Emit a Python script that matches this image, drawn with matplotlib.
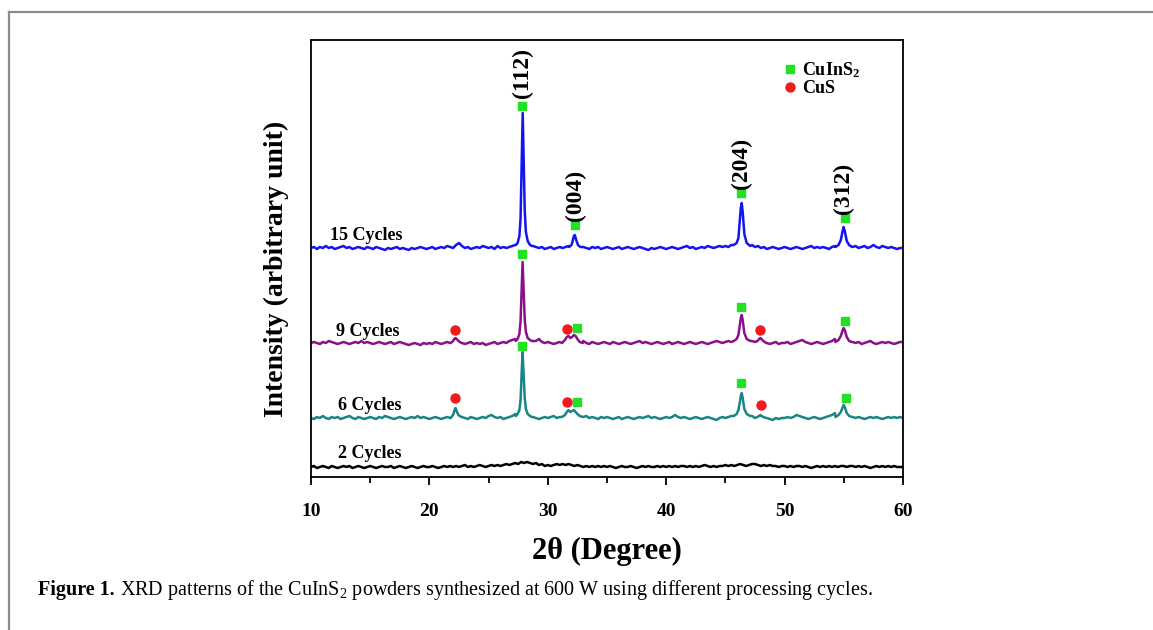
import numpy as np
import matplotlib.pyplot as plt
from matplotlib.lines import Line2D

plt.rcParams['font.family'] = ['Liberation Serif', 'DejaVu Serif']
plt.rcParams['mathtext.fontset'] = 'custom'
plt.rcParams['mathtext.rm'] = 'Liberation Serif'
plt.rcParams['mathtext.bf'] = 'Liberation Serif:bold'

# sampling grid of the patterns, 2theta in degrees (0.25 deg step)
two_theta = np.linspace(10, 60, 201)

# intensity above each pattern's own baseline (a.u.)
i_15 = [0, 1, -1, 1, 0, 2, 0, 1, -1, 0, 1, 2, 0, 1, -1, 0, 1, 0, -1, 1,
        0, -1, 1, 0, -1, -2, 0, -1, 0, 1, -1, 0, -1, -2, 0, -1, 0, 1, 0, -1,
        0, 1, -1, 0, 1, 0, 2, 1, 0, 3, 5, 2, 0, 1, -1, 0, 1, 0, 2, 1,
        0, 1, -1, 2, 0, 1, 0, 1, 2, 3, 8, 70, 40, 10, 4, 2, 1, 0, 1, -1,
        0, 1, -1, 0, 1, 0, 1, 2, 4, 12, 5, 2, 1, 0, -1, 1, 0, 1, -1, 0,
        1, 0, -1, 0, 1, -1, 0, 1, 0, -1, 0, 1, 0, -1, -2, 0, -1, 0, 1, 0,
        -1, 0, 1, 0, -1, 0, 1, 2, 0, 1, -1, 0, 1, 0, 2, 1, 0, 1, 2, 1,
        2, 1, 3, 2, 3, 4, 20, 30, 6, 3, 1, 2, 0, 1, -1, 0, 1, 0, -1, 0,
        1, 0, -1, 0, 1, 0, -1, 0, 1, 2, 0, 1, 0, 1, 0, -1, 1, 2, 3, 8,
        18, 8, 3, 1, 2, 0, 1, 2, 0, 1, 3, 1, 0, 2, 1, 0, 1, 0, -1, 0,
        0]
i_9 = [0, 1, 0, -1, 1, 0, 2, 1, 0, -1, 0, 1, 0, -1, 0, 1, 0, 2, 0, 1,
       0, -1, 0, 1, 0, -1, 0, 1, -1, 0, 1, 0, -1, -2, -1, 0, -1, -2, 0, -1,
       0, -1, 1, 0, -1, 0, 1, 0, 3, 5, 2, 0, -1, 0, 1, -1, 0, -1, 0, -2,
       -1, 0, 1, -1, 0, 1, 0, 2, 3, 4, 8, 40, 30, 8, 4, 2, 2, 4, 1, 0,
       1, 0, -1, 0, 1, 2, 4, 6, 5, 7, 3, 1, 2, 0, -1, 1, 0, -1, 0, 1,
       0, -1, 1, 0, -1, 0, 1, 0, -1, 0, 1, 2, 0, 1, 0, -1, 0, 1, 0, -1,
       0, 1, -1, 0, 1, 0, -1, 0, 1, 0, -1, 0, 1, 0, -1, 0, 1, 2, 1, 0,
       1, 2, 1, 2, 3, 6, 20, 25, 6, 2, 1, 3, 5, 2, 0, -1, 0, 1, -1, 0,
       0, 1, -1, 0, 1, 2, 3, 1, 0, -1, 0, 1, 0, -1, 0, 1, 2, 4, 8, 12,
       12, 6, 2, 1, 0, 1, -1, 0, 1, 2, 0, -1, 0, 1, 0, 1, 0, -1, 0, 1,
       1]
i_6 = [0, -1, 1, 0, 2, 0, -1, 1, 0, 1, -1, 0, 1, 2, 0, -1, 1, 0, -1, 0,
       1, 0, -1, 1, 0, 2, 1, 0, -1, 0, 1, 0, -1, 0, 1, 0, 2, 0, 1, 0,
       -1, 0, 1, 0, -1, 0, 1, 0, 4, 9, 3, 1, 0, -1, 1, 0, -1, 0, 1, 0,
       2, 3, 1, 0, 1, -1, 0, 1, 2, 4, 8, 40, 30, 8, 3, 1, 0, -1, 0, 1,
       0, 1, 2, 0, 1, 2, 5, 7, 6, 7, 4, 2, 1, 2, 0, 1, 0, -1, 1, 0,
       1, 0, -1, 0, 1, -1, 0, 1, 0, -1, 0, 1, 0, 1, 2, 0, 1, 0, -1, 0,
       1, 0, 1, 3, 1, 0, 1, 0, -1, 0, 1, 0, -1, 0, 1, 0, -1, -2, 0, 1,
       0, 1, 2, 1, 2, 5, 18, 22, 5, 2, 1, 2, 3, 1, 0, -1, -2, 0, -1, 0,
       0, 1, 0, 1, 3, 2, 1, 0, -1, 0, 1, 0, -1, 0, 1, 2, 3, 5, 8, 11,
       11, 6, 2, 1, 0, 1, 0, -1, 0, 1, 0, 1, 0, -1, 0, 1, 0, 1, 0, 1,
       0]
i_2 = [0, 1, -1, 0, 1, 0, -1, 1, 0, -1, 0, 1, 0, 1, -1, 0, 1, 0, -1, 0,
       1, 0, -1, 0, 1, 0, 0, 1, -1, 0, 1, 0, -1, 0, 1, 0, -1, 0, 1, 0,
       0, 1, 0, -1, 0, 1, 0, 1, 0, 1, 0, 1, 2, 0, 1, 0, 1, 2, 1, 0,
       1, 2, 1, 2, 1, 2, 3, 2, 3, 4, 3, 5, 4, 5, 4, 3, 4, 2, 3, 1,
       2, 1, 2, 3, 2, 3, 2, 3, 2, 1, 2, 1, 0, 1, 0, 1, 0, 1, 0, 1,
       0, 1, 0, -1, 0, 1, 0, 0, 1, 0, -1, 0, 1, 0, 1, 0, 0, 1, 0, 1,
       0, 1, 0, 1, 0, 1, 1, 0, 1, 0, 1, 0, 1, 2, 1, 0, 1, 0, 1, 1,
       2, 1, 2, 1, 2, 3, 2, 1, 2, 3, 3, 2, 1, 2, 1, 2, 1, 1, 0, 1,
       1, 0, 1, 0, 1, 1, 0, 1, 0, -1, 0, 1, 0, 1, 0, 1, 0, 1, 0, 1,
       1, 0, 1, 1, 0, 1, 0, 1, 0, -1, 0, 1, 0, 1, 0, 1, 0, 1, 0, 0,
       0]

# finer readings across the reflections: (2theta list, intensity list)
peaks_15 = [
    ([27.3, 27.45, 27.6, 27.7, 27.78, 27.88, 27.96, 28.05, 28.15, 28.3, 28.5, 28.65],
     [3, 5, 12, 30, 75, 135, 90, 38, 16, 7, 3, 2]),
    ([31.8, 32.0, 32.1, 32.2, 32.28, 32.4, 32.55, 32.75], [1, 3, 7, 12, 13, 8, 3, 1]),
    ([45.7, 45.95, 46.1, 46.22, 46.3, 46.38, 46.46, 46.6, 46.8, 47.1],
     [3, 5, 10, 28, 40, 45, 36, 14, 5, 2]),
    ([54.3, 54.55, 54.75, 54.88, 54.98, 55.08, 55.25, 55.45, 55.7],
     [1, 3, 8, 16, 21, 17, 7, 3, 1]),
]
peaks_9 = [
    ([21.8, 22.0, 22.1, 22.2, 22.3, 22.45, 22.7], [0, 2, 4, 5, 4, 2, 0]),
    ([27.3, 27.45, 27.6, 27.7, 27.78, 27.87, 27.95, 28.05, 28.15, 28.3, 28.5, 28.65],
     [2, 4, 9, 22, 50, 81, 55, 24, 11, 5, 3, 2]),
    ([31.2, 31.45, 31.6, 31.75, 31.9, 32.05, 32.2, 32.35, 32.5, 32.7, 32.95],
     [0, 3, 6, 7, 5, 6, 8, 7, 4, 1, 0]),
    ([45.7, 45.95, 46.1, 46.22, 46.3, 46.38, 46.46, 46.6, 46.8, 47.1],
     [2, 4, 8, 18, 25, 28, 23, 10, 4, 2]),
    ([47.5, 47.7, 47.85, 47.95, 48.05, 48.2, 48.45], [1, 2, 4, 5, 4, 2, 0]),
    ([54.3, 54.55, 54.75, 54.88, 54.98, 55.08, 55.25, 55.45, 55.7],
     [1, 3, 7, 12, 15, 13, 6, 2, 1]),
]
peaks_6 = [
    ([21.8, 22.0, 22.1, 22.2, 22.3, 22.45, 22.7], [0, 3, 7, 10, 7, 3, 1]),
    ([27.3, 27.45, 27.6, 27.7, 27.78, 27.87, 27.95, 28.05, 28.15, 28.3, 28.5, 28.65],
     [2, 4, 8, 18, 42, 66, 46, 20, 9, 4, 2, 1]),
    ([31.2, 31.45, 31.6, 31.75, 31.9, 32.05, 32.2, 32.35, 32.5, 32.7, 32.95],
     [1, 3, 6, 8, 6, 7, 8, 6, 4, 2, 1]),
    ([45.7, 45.95, 46.1, 46.22, 46.3, 46.38, 46.46, 46.6, 46.8, 47.1],
     [2, 4, 8, 16, 22, 25, 20, 9, 4, 2]),
    ([47.5, 47.7, 47.85, 47.95, 48.05, 48.2, 48.45], [0, 1, 2, 3, 2, 1, 0]),
    ([54.3, 54.55, 54.75, 54.88, 54.98, 55.08, 55.25, 55.45, 55.7],
     [1, 3, 6, 10, 13, 11, 5, 2, 1]),
]
peaks_2 = []

labels = ['15 Cycles', '9 Cycles', '6 Cycles', '2 Cycles']
offsets = [229, 134, 59, 10]
colors = ['#1414f0', '#8a108a', '#1a8585', '#000000']

# phase markers (2theta, a.u.)
cuins2_x = {'15 Cycles': [27.85, 32.3, 46.35, 55.1],
            '9 Cycles': [27.85, 32.5, 46.35, 55.1],
            '6 Cycles': [27.85, 32.5, 46.35, 55.15]}
cuins2_y = {'15 Cycles': [371, 252, 284, 259],
            '9 Cycles': [223, 149, 170, 156],
            '6 Cycles': [131, 75, 94, 79]}
cus_x = {'9 Cycles': [22.2, 31.6, 47.95], '6 Cycles': [22.2, 31.6, 48.0]}
cus_y = {'9 Cycles': [147, 148, 147], '6 Cycles': [79, 75, 72]}

hkl = ['(112)', '(004)', '(204)', '(312)']
hkl_x = [27.85, 32.3, 46.35, 55.0]
hkl_y = [404, 282, 314, 289]


def build(grid_vals, peaks):
    x = np.array(two_theta)
    y = np.array(grid_vals, dtype=float)
    keep = np.ones(len(x), bool)
    for px, py in peaks:
        keep &= ~((x >= min(px)) & (x <= max(px)))
    xs = [x[keep]] + [np.array(p[0]) for p in peaks]
    ys = [y[keep]] + [np.array(p[1], dtype=float) for p in peaks]
    xs = np.concatenate(xs)
    ys = np.concatenate(ys)
    order = np.argsort(xs)
    return xs[order], ys[order]


fig = plt.figure(figsize=(11.53, 6.30), dpi=100)
ax = fig.add_axes([311 / 1153, 1 - 477 / 630, 592 / 1153, 437 / 630])

series = [(i_15, peaks_15), (i_9, peaks_9), (i_6, peaks_6), (i_2, peaks_2)]
for (vals, pk), lab, off, col in zip(series, labels, offsets, colors):
    x, y = build(vals, pk)
    ax.plot(x, y + off, color=col, lw=1.8)

for lab in cuins2_x:
    ax.plot(cuins2_x[lab], cuins2_y[lab], 's', color='#22e022', ms=6, ls='none')
for lab in cus_x:
    ax.plot(cus_x[lab], cus_y[lab], 'o', color='#ee1c1c', ms=6.5, ls='none')

for t, x, y in zip(hkl, hkl_x, hkl_y):
    ax.text(x, y, t, rotation=90, ha='center', va='center', fontsize=17, fontweight='bold')

label_pos = [(11.6, 241), (12.1, 146), (12.3, 72), (12.3, 24)]
for lab, (x, y) in zip(labels, label_pos):
    ax.text(x, y, lab, fontsize=13, fontweight='bold', va='center')

handles = [Line2D([], [], marker='s', color='#22e022', ls='none', ms=6),
           Line2D([], [], marker='o', color='#ee1c1c', ls='none', ms=6.5)]
ax.legend(handles, [r'$\mathbf{CuInS_2}$', 'CuS'], loc='upper right',
          bbox_to_anchor=(0.955, 0.99), frameon=False, handletextpad=0.1,
          labelspacing=0.0, handlelength=1.2, prop={'weight': 'bold', 'size': 13})

ax.set_xlim(10, 60)
ax.set_ylim(0, 437)
ax.set_xticks([10, 20, 30, 40, 50, 60])
ax.set_xticks([15, 25, 35, 45, 55], minor=True)
ax.set_yticks([])
ax.tick_params(axis='x', which='major', length=6, width=1.3, labelsize=14, pad=13)
ax.tick_params(axis='x', which='minor', length=4, width=1.3)
for lbl in ax.get_xticklabels():
    lbl.set_fontweight('bold')
for s in ax.spines.values():
    s.set_linewidth(1.3)

ax.set_xlabel('2θ (Degree)', fontsize=22, fontweight='bold', labelpad=12)
ax.set_ylabel('Intensity (arbitrary unit)', fontsize=20, fontweight='bold')
ax.yaxis.set_label_coords(-0.037, 0.476)

# page frame and caption
fig.add_artist(Line2D([9 / 1153, 9 / 1153], [0, 1 - 12 / 630], transform=fig.transFigure,
                      color='#8c8c8c', lw=1.6))
fig.add_artist(Line2D([9 / 1153, 1], [1 - 12 / 630, 1 - 12 / 630], transform=fig.transFigure,
                      color='#8c8c8c', lw=1.6))
t1 = fig.text(38 / 1153, 1 - 590 / 630, 'Figure 1.', fontsize=14.5, fontweight='bold', va='center')
renderer = fig.canvas.get_renderer()
bb = t1.get_window_extent(renderer)
fig.text(bb.x1 / fig.bbox.width, 1 - 590 / 630,
         ' XRD patterns of the CuInS$_2$ powders synthesized at 600 W using different processing cycles.',
         fontsize=14.5, va='center')

fig.savefig('out.png', dpi=100)
